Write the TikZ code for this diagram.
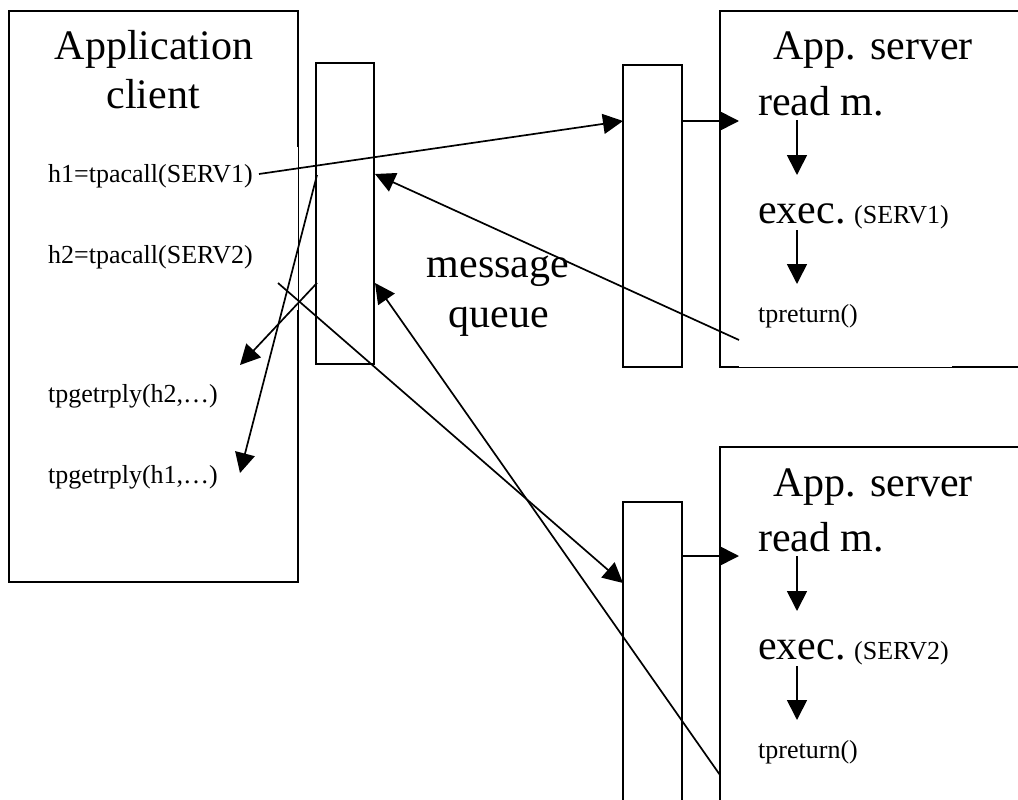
\documentclass[tikz,border=0pt]{standalone}
\usepackage{fontspec}
\setmainfont{Liberation Serif}
\usetikzlibrary{arrows.meta}
\begin{document}
\begin{tikzpicture}[x=1pt,y=-1pt,
  box/.style={draw, line width=1.8pt, rectangle, inner sep=0pt},
  conn/.style={line width=1.7pt, -{Triangle[length=20pt,width=20pt]}},
  big/.style={inner sep=0pt, font=\fontsize{42}{50}\selectfont},
  small/.style={inner sep=0pt, font=\fontsize{26}{30}\selectfont},
]
\useasboundingbox (0,0) rectangle (1018,800);
\clip (0,0) rectangle (1018,800);

% ---- boxes ----
\node[box, minimum width=289pt, minimum height=571pt] (client) at (153.5,296.5) {};
\node[box, minimum width=58pt, minimum height=301pt] (cq) at (345,213.5) {};
\node[box, minimum width=59pt, minimum height=302pt] (sq1) at (652.5,216) {};
\node[box, minimum width=330pt, minimum height=356pt] (srv1) at (885,189) {};
\node[box, minimum width=59pt, minimum height=338pt] (sq2) at (652.5,671) {};
\node[box, minimum width=330pt, minimum height=393pt] (srv2) at (885,643.5) {};

% thin stretches of the outlines
\draw[white, line width=2.4pt] (298,147) -- (298,310);
\draw[line width=0.7pt] (298,147) -- (298,310);
\draw[white, line width=2.4pt] (739,367) -- (952,367);
\draw[line width=0.7pt] (739,367) -- (952,367);

% ---- client texts ----
\node[big, anchor=base] (ttl) at (154,60) {Application};
\node[big, anchor=base] (ttl2) at (153,108) {client};
\node[small, anchor=base west] (h1) at (48,182) {h1=tpacall(SERV1)};
\node[small, anchor=base west] (h2) at (48,263) {h2=tpacall(SERV2)};
\node[small, anchor=base west] (g2) at (48,402) {tpgetrply(h2,…)};
\node[small, anchor=base west] (g1) at (48,483) {tpgetrply(h1,…)};

% ---- queue label ----
\node[big, anchor=base] (mq1) at (498,277) {message};
\node[big, anchor=base] (mq2) at (499,327) {queue};

% ---- server 1 texts ----
\node[big, anchor=base] (s1t) at (873,60) {App. server};
\node[big, anchor=base west] (s1r) at (758,115) {read m.};
\node[big, anchor=base west] (s1e) at (758,223) {exec.};
\node[small, anchor=base west] (s1s) at (854,223) {(SERV1)};
\node[small, anchor=base west] (s1p) at (758,322) {tpreturn()};

% ---- server 2 texts ----
\node[big, anchor=base] (s2t) at (873,496) {App. server};
\node[big, anchor=base west] (s2r) at (758,551) {read m.};
\node[big, anchor=base west] (s2e) at (758,659) {exec.};
\node[small, anchor=base west] (s2s) at (854,659) {(SERV2)};
\node[small, anchor=base west] (s2p) at (758,758) {tpreturn()};

% ---- connector end points ----
\coordinate (h1out) at (259,174);
\coordinate (sq1in) at (623,121);
\coordinate (sq1out) at (682,121);
\coordinate (s1in) at (739,121);
\coordinate (s1ret) at (739,340);
\coordinate (cqin1) at (375,174);
\coordinate (cqout1) at (317,175);
\coordinate (g1in) at (240,473);
\coordinate (cqout2) at (317,283);
\coordinate (g2in) at (240,365);
\coordinate (h2out) at (278,283);
\coordinate (sq2in) at (623,583);
\coordinate (sq2out) at (682,556);
\coordinate (s2in) at (739,556);
\coordinate (s2ret) at (720,775);
\coordinate (cqin2) at (375,283);

\coordinate (s1a) at (797,120);
\coordinate (s1b) at (797,175);
\coordinate (s1c) at (797,230);
\coordinate (s1d) at (797,284);
\coordinate (s2a) at (797,556);
\coordinate (s2b) at (797,611);
\coordinate (s2c) at (797,666);
\coordinate (s2d) at (797,720);

% ---- connectors ----
\draw[conn] (h1out) -- (sq1in);
\draw[conn] (sq1out) -- (s1in);
\draw[conn] (s1ret) -- (cqin1);
\draw[conn] (cqout1) -- (g1in);
\draw[conn] (cqout2) -- (g2in);
\draw[conn] (h2out) -- (sq2in);
\draw[conn] (sq2out) -- (s2in);
\draw[conn] (s2ret) -- (cqin2);

\draw[conn] (s1a) -- (s1b);
\draw[conn] (s1c) -- (s1d);
\draw[conn] (s2a) -- (s2b);
\draw[conn] (s2c) -- (s2d);
\end{tikzpicture}
\end{document}
